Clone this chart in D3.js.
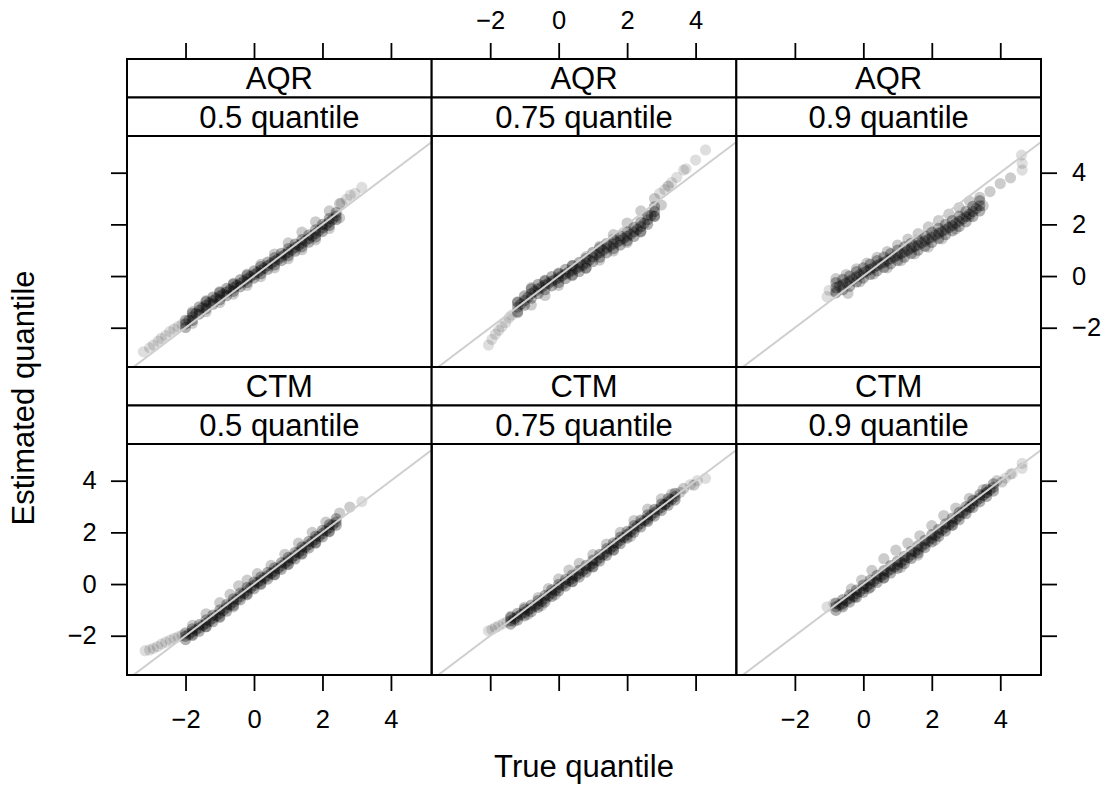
<!DOCTYPE html>
<html><head><meta charset="utf-8">
<script src="https://cdn.jsdelivr.net/npm/d3@7"></script>
<style>body{margin:0;background:#fff} text{font-family:"Liberation Sans",Arial,Helvetica,sans-serif}</style>
</head><body><svg id="c" width="1105" height="786"></svg>
<script>
// ---------- data (true quantile grid + estimated quantile tracks) ----------
const methods = ["AQR", "CTM"];
const quantileLabels = ["0.5 quantile", "0.75 quantile", "0.9 quantile"];
const tickVals = [-2, 0, 2, 4];
const xLimits = [-3.71, 5.19];
const yLimits = [-3.52, 5.42];

// AQR 0.5
const a50_x   = [-2.0,-1.8,-1.6,-1.4,-1.2,-1.0,-0.8,-0.6,-0.4,-0.2,0.0,0.2,0.4,0.6,0.8,1.0,1.2,1.4,1.6,1.8,2.0,2.2,2.4];
const a50_hi  = [-1.71,-1.44,-1.19,-0.99,-0.81,-0.64,-0.48,-0.31,-0.14,0.03,0.20,0.37,0.54,0.71,0.88,1.06,1.24,1.41,1.59,1.79,2.00,2.23,2.46];
const a50_mid = [-1.85,-1.58,-1.33,-1.13,-0.95,-0.78,-0.62,-0.45,-0.28,-0.11,0.06,0.23,0.40,0.57,0.74,0.92,1.10,1.27,1.45,1.65,1.86,2.09,2.32];
const a50_lo  = [-1.99,-1.72,-1.47,-1.27,-1.09,-0.92,-0.76,-0.59,-0.42,-0.25,-0.08,0.09,0.26,0.43,0.60,0.78,0.96,1.13,1.31,1.51,1.72,1.95,2.18];
const a50_x2  = [-1.9,-1.7,-1.5,-1.3,-1.1,-0.9,-0.7,-0.5,-0.3,-0.1,0.1,0.3,0.5,0.7,0.9,1.1,1.3,1.5,1.7,1.9,2.1,2.3];
const a50_mid2= [-1.71,-1.45,-1.23,-1.04,-0.86,-0.70,-0.53,-0.36,-0.19,-0.02,0.14,0.31,0.48,0.65,0.83,1.01,1.18,1.36,1.55,1.75,1.97,2.20];
const a50_fringe = [[-1.8,-1.38],[-1.4,-0.95],[-1.0,-0.60],[-0.6,-0.28],[-0.2,0.08],[0.2,0.45],[0.6,0.85],[1.0,1.28],[1.4,1.70],[1.8,2.10],[2.2,2.52],[2.5,2.80],
  [-1.8,-1.83],[-1.4,-1.38],[-1.0,-1.03],[-0.6,-0.70],[-0.2,-0.36],[0.2,-0.02],[0.6,0.32],[1.0,0.67],[1.4,1.02],[1.8,1.40],[2.2,1.84],[2.5,2.25]];
const a50_tail = [[-3.23,-2.93],[-3.05,-2.78],[-2.94,-2.67],[-2.80,-2.52],[-2.71,-2.41],[-2.58,-2.30],[-2.46,-2.15],[-2.34,-2.05],[-2.22,-1.96],[-2.10,-1.86],
  [2.55,2.82],[2.70,2.97],[2.81,3.13],[2.95,3.20],[3.15,3.43]];

// AQR 0.75
const a75_x   = [-1.2,-1.0,-0.8,-0.6,-0.4,-0.2,0.0,0.2,0.4,0.6,0.8,1.0,1.2,1.4,1.6,1.8,2.0,2.2,2.4,2.6,2.8];
const a75_hi  = [-1.02,-0.77,-0.50,-0.32,-0.17,-0.02,0.11,0.26,0.40,0.53,0.68,0.92,1.09,1.26,1.42,1.56,1.72,1.89,2.09,2.36,2.68];
const a75_mid = [-1.20,-0.95,-0.68,-0.50,-0.35,-0.20,-0.07,0.08,0.22,0.35,0.50,0.74,0.91,1.08,1.24,1.38,1.54,1.71,1.91,2.18,2.50];
const a75_lo  = [-1.38,-1.13,-0.86,-0.68,-0.53,-0.38,-0.25,-0.10,0.04,0.17,0.32,0.56,0.73,0.90,1.06,1.20,1.36,1.53,1.73,2.00,2.32];
const a75_x2  = [-1.1,-0.9,-0.7,-0.5,-0.3,-0.1,0.1,0.3,0.5,0.7,0.9,1.1,1.3,1.5,1.7,1.9,2.1,2.3,2.5,2.7];
const a75_mid2= [-1.08,-0.82,-0.59,-0.43,-0.28,-0.14,0.01,0.15,0.28,0.42,0.62,0.83,1.00,1.16,1.31,1.46,1.62,1.81,2.04,2.34];
const a75_fringe = [[-1.2,-1.0],[-0.8,-0.45],[-0.4,-0.2],[0.0,0.08],[0.4,0.4],[0.8,0.75],[1.2,1.15],[1.6,1.6],[2.0,2.05],[2.4,2.52],[2.8,3.0],[3.2,3.48],
  [-1.2,-1.42],[-0.8,-1.12],[-0.4,-0.75],[0.0,-0.36],[0.4,0.02],[0.8,0.30],[1.2,0.62],[1.6,0.97],[2.0,1.30],[2.4,1.70],[2.8,2.30],[3.0,2.75]];
const a75_tail = [[-2.05,-2.67],[-1.95,-2.45],[-1.85,-2.25],[-1.75,-2.10],[-1.66,-1.96],[-1.55,-1.80],[-1.45,-1.62],[-1.37,-1.51],
  [2.95,3.20],[3.10,3.35],[3.30,3.62],[3.45,3.82],[3.65,4.10],[3.72,4.15],[4.00,4.49],[4.29,4.88]];

// AQR 0.9
const a90_x   = [-0.8,-0.6,-0.4,-0.2,0.0,0.2,0.4,0.6,0.8,1.0,1.2,1.4,1.6,1.8,2.0,2.2,2.4,2.6,2.8,3.0,3.2,3.4];
const a90_hi  = [-0.25,-0.13,0.00,0.17,0.32,0.46,0.60,0.73,0.87,1.00,1.13,1.27,1.40,1.55,1.70,1.85,2.00,2.15,2.32,2.50,2.70,2.92];
const a90_mid = [-0.45,-0.33,-0.20,-0.03,0.12,0.26,0.40,0.53,0.67,0.80,0.93,1.07,1.20,1.35,1.50,1.65,1.80,1.95,2.12,2.30,2.50,2.72];
const a90_lo  = [-0.65,-0.53,-0.40,-0.23,-0.08,0.06,0.20,0.33,0.47,0.60,0.73,0.87,1.00,1.15,1.30,1.45,1.60,1.75,1.92,2.10,2.30,2.52];
const a90_x2  = [-0.7,-0.5,-0.3,-0.1,0.1,0.3,0.5,0.7,0.9,1.1,1.3,1.5,1.7,1.9,2.1,2.3,2.5,2.7,2.9,3.1,3.3];
const a90_mid2= [-0.39,-0.27,-0.12,0.05,0.19,0.33,0.47,0.60,0.74,0.87,1.00,1.14,1.28,1.43,1.58,1.73,1.88,2.04,2.21,2.40,2.61];
const a90_fringe = [[-0.8,-0.10],[-0.5,0.06],[-0.2,0.28],[0.1,0.50],[0.4,0.72],[0.7,0.95],[1.0,1.20],[1.3,1.43],[1.6,1.64],[1.9,1.90],[2.2,2.15],[2.5,2.40],[2.8,2.65],[3.1,2.90],[3.4,3.05],[3.7,3.27],[4.0,3.58],[4.3,3.80],
  [-0.8,-0.60],[-0.45,-0.67],[-0.1,-0.22],[0.3,0.08],[0.7,0.32],[1.1,0.60],[1.5,0.86],[1.9,1.12],[2.3,1.44],[2.7,1.82],[3.1,2.30],[3.5,2.72]];
const a90_tail = [[-1.06,-0.80],[-1.00,-0.55],[4.64,4.10],[4.64,4.36],[4.62,4.68]];

// CTM 0.5
const c50_x   = [-2.0,-1.8,-1.6,-1.4,-1.2,-1.0,-0.8,-0.6,-0.4,-0.2,0.0,0.2,0.4,0.6,0.8,1.0,1.2,1.4,1.6,1.8,2.0,2.2,2.4];
const c50_hi  = [-1.89,-1.73,-1.57,-1.39,-1.20,-1.00,-0.79,-0.57,-0.35,-0.13,0.08,0.27,0.45,0.63,0.83,1.03,1.23,1.44,1.65,1.86,2.08,2.30,2.53];
const c50_mid = [-2.02,-1.86,-1.70,-1.52,-1.33,-1.13,-0.92,-0.70,-0.48,-0.26,-0.05,0.14,0.32,0.50,0.70,0.90,1.10,1.31,1.52,1.73,1.95,2.17,2.40];
const c50_lo  = [-2.15,-1.99,-1.83,-1.65,-1.46,-1.26,-1.05,-0.83,-0.61,-0.39,-0.18,0.01,0.19,0.37,0.57,0.77,0.97,1.18,1.39,1.60,1.82,2.04,2.27];
const c50_x2  = [-1.9,-1.7,-1.5,-1.3,-1.1,-0.9,-0.7,-0.5,-0.3,-0.1,0.1,0.3,0.5,0.7,0.9,1.1,1.3,1.5,1.7,1.9,2.1,2.3];
const c50_mid2= [-1.94,-1.78,-1.61,-1.43,-1.23,-1.03,-0.81,-0.59,-0.37,-0.15,0.05,0.23,0.41,0.60,0.80,1.00,1.21,1.42,1.63,1.84,2.06,2.29];
const c50_fringe = [[-1.8,-1.60],[-1.4,-1.15],[-1.0,-0.72],[-0.7,-0.40],[-0.45,-0.07],[-0.2,0.15],[0.1,0.40],[0.5,0.72],[0.9,1.15],[1.3,1.58],[1.7,2.00],[2.1,2.40],[2.5,2.75],[2.8,2.98],
  [-1.8,-1.95],[-1.4,-1.65],[-1.0,-1.30],[-0.6,-0.88],[-0.2,-0.42],[0.2,-0.02],[0.6,0.35],[1.0,0.75],[1.4,1.15],[1.8,1.58],[2.2,2.02]];
const c50_tail = [[-3.18,-2.58],[-3.05,-2.55],[-2.94,-2.49],[-2.82,-2.42],[-2.70,-2.32],[-2.58,-2.25],[-2.45,-2.17],[-2.33,-2.10],[-2.21,-2.04],[-2.10,-1.98],[3.15,3.19]];

// CTM 0.75
const c75_x   = [-1.4,-1.2,-1.0,-0.8,-0.6,-0.4,-0.2,0.0,0.2,0.4,0.6,0.8,1.0,1.2,1.4,1.6,1.8,2.0,2.2,2.4,2.6,2.8,3.0,3.2,3.4];
const c75_hi  = [-1.29,-1.13,-0.97,-0.81,-0.64,-0.44,-0.22,-0.01,0.18,0.35,0.53,0.72,0.93,1.15,1.37,1.59,1.82,2.04,2.26,2.47,2.68,2.89,3.10,3.31,3.51];
const c75_mid = [-1.42,-1.26,-1.10,-0.94,-0.77,-0.57,-0.35,-0.14,0.05,0.22,0.40,0.59,0.80,1.02,1.24,1.46,1.69,1.91,2.13,2.34,2.55,2.76,2.97,3.18,3.38];
const c75_lo  = [-1.55,-1.39,-1.23,-1.07,-0.90,-0.70,-0.48,-0.27,-0.08,0.09,0.27,0.46,0.67,0.89,1.11,1.33,1.56,1.78,2.00,2.21,2.42,2.63,2.84,3.05,3.25];
const c75_x2  = [-1.3,-1.1,-0.9,-0.7,-0.5,-0.3,-0.1,0.1,0.3,0.5,0.7,0.9,1.1,1.3,1.5,1.7,1.9,2.1,2.3,2.5,2.7,2.9,3.1,3.3];
const c75_mid2= [-1.34,-1.18,-1.02,-0.86,-0.67,-0.46,-0.25,-0.05,0.14,0.31,0.50,0.70,0.91,1.13,1.35,1.58,1.80,2.02,2.24,2.45,2.66,2.87,3.08,3.28];
const c75_fringe = [[-1.4,-1.25],[-1.0,-0.90],[-0.6,-0.52],[-0.3,-0.18],[0.0,0.20],[0.3,0.54],[0.6,0.80],[1.0,1.14],[1.4,1.55],[1.8,2.00],[2.2,2.46],[2.6,2.90],[3.0,3.30],[3.3,3.48],[3.65,3.70],
  [-1.3,-1.44],[-0.9,-1.17],[-0.5,-0.83],[-0.1,-0.41],[0.4,0.10],[1.0,0.66],[1.6,1.30],[2.1,1.84],[2.6,2.48],[3.1,3.08],[3.55,3.55],[3.95,3.83]];
const c75_tail = [[-2.05,-1.81],[-1.95,-1.76],[-1.85,-1.68],[-1.75,-1.62],[-1.62,-1.53],[-1.51,-1.46],[3.85,3.85],[4.05,4.00],[4.29,4.09]];

// CTM 0.9
const c90_x   = [-0.8,-0.6,-0.4,-0.2,0.0,0.2,0.4,0.6,0.8,1.0,1.2,1.4,1.6,1.8,2.0,2.2,2.4,2.6,2.8,3.0,3.2,3.4,3.6,3.8];
const c90_hi  = [-0.74,-0.60,-0.42,-0.23,-0.04,0.15,0.34,0.52,0.71,0.89,1.07,1.27,1.48,1.69,1.91,2.12,2.33,2.55,2.77,3.00,3.24,3.46,3.67,3.88];
const c90_mid = [-0.88,-0.74,-0.56,-0.37,-0.18,0.01,0.20,0.38,0.57,0.75,0.93,1.13,1.34,1.55,1.77,1.98,2.19,2.41,2.63,2.86,3.10,3.32,3.53,3.74];
const c90_lo  = [-1.02,-0.88,-0.70,-0.51,-0.32,-0.13,0.06,0.24,0.43,0.61,0.79,0.99,1.20,1.41,1.63,1.84,2.05,2.27,2.49,2.72,2.96,3.18,3.39,3.60];
const c90_x2  = [-0.7,-0.5,-0.3,-0.1,0.1,0.3,0.5,0.7,0.9,1.1,1.3,1.5,1.7,1.9,2.1,2.3,2.5,2.7,2.9,3.1,3.3,3.5,3.7];
const c90_mid2= [-0.81,-0.65,-0.47,-0.28,-0.09,0.11,0.29,0.48,0.66,0.84,1.03,1.24,1.45,1.66,1.88,2.09,2.30,2.52,2.75,2.98,3.21,3.43,3.64];
const c90_fringe = [[-0.35,-0.19],[-0.05,0.15],[0.25,0.53],[0.6,0.98],[0.95,1.31],[1.3,1.58],[1.65,1.87],[2.0,2.26],[2.35,2.65],[2.7,2.94],[3.1,3.32],[3.5,3.66],[3.9,4.00],
  [-0.62,-0.81],[-0.25,-0.51],[0.15,-0.18],[0.6,0.23],[1.1,0.65],[1.6,1.12],[2.1,1.70],[2.6,2.28],[3.1,2.95],[3.6,3.54],[4.05,3.95]];
const c90_tail = [[-1.06,-0.88],[-0.86,-0.75],[4.3,4.25],[4.64,4.67],[4.64,4.48],[4.35,4.28],[4.15,4.10]];

(function () {
function corePoints(xg, tracks, xg2, track2) {
  const pts = [];
  tracks.forEach(t => t.forEach((y, i) => pts.push([xg[i], y])));
  track2.forEach((y, i) => pts.push([xg2[i], y]));
  return pts;
}
const panels = [
  [{core: corePoints(a50_x, [a50_hi, a50_mid, a50_lo], a50_x2, a50_mid2), fringe: a50_fringe, tail: a50_tail},
   {core: corePoints(a75_x, [a75_hi, a75_mid, a75_lo], a75_x2, a75_mid2), fringe: a75_fringe, tail: a75_tail},
   {core: corePoints(a90_x, [a90_hi, a90_mid, a90_lo], a90_x2, a90_mid2), fringe: a90_fringe, tail: a90_tail}],
  [{core: corePoints(c50_x, [c50_hi, c50_mid, c50_lo], c50_x2, c50_mid2), fringe: c50_fringe, tail: c50_tail},
   {core: corePoints(c75_x, [c75_hi, c75_mid, c75_lo], c75_x2, c75_mid2), fringe: c75_fringe, tail: c75_tail},
   {core: corePoints(c90_x, [c90_hi, c90_mid, c90_lo], c90_x2, c90_mid2), fringe: c90_fringe, tail: c90_tail}]
];

const W = 1105, H = 786;
const leftX = 127, rightX = 1041, topY = 59, stripH = 38.5, panelH = 231;
const panelW = (rightX - leftX) / 3;
const rowStep = 2 * stripH + panelH;
const FONT = '"Liberation Sans", Arial, Helvetica, sans-serif';

const svg = d3.select("#c");
svg.append("rect").attr("width", W).attr("height", H).attr("fill", "#fff");

const xs = d3.scaleLinear().domain(xLimits).range([0, panelW]);
const ys = d3.scaleLinear().domain(yLimits).range([panelH, 0]);
const defs = svg.append("defs");

const styleAxis = sel => {
  sel.attr("font-size", 25.5).attr("font-family", FONT);
  sel.select(".domain").remove();
  sel.selectAll(".tick line").attr("stroke", "#000").attr("stroke-width", 1.8);
  sel.selectAll(".tick text").attr("fill", "#000");
};

for (let r = 0; r < 2; r++) {
  for (let c = 0; c < 3; c++) {
    const x0 = leftX + c * panelW;
    const y0 = topY + r * rowStep;
    [methods[r], quantileLabels[c]].forEach((lab, k) => {
      const sy = y0 + k * stripH;
      svg.append("rect").attr("x", x0).attr("y", sy).attr("width", panelW).attr("height", stripH)
        .attr("fill", "#fff").attr("stroke", "#000").attr("stroke-width", 2);
      svg.append("text").attr("x", x0 + panelW / 2).attr("y", sy + stripH / 2 + 11)
        .attr("text-anchor", "middle").attr("font-size", 31).attr("font-family", FONT).attr("fill", "#000").text(lab);
    });
    const py = y0 + 2 * stripH;
    const g = svg.append("g").attr("transform", `translate(${x0},${py})`);
    const cid = `clip${r}${c}`;
    defs.append("clipPath").attr("id", cid).append("rect").attr("width", panelW).attr("height", panelH);
    const inner = g.append("g").attr("clip-path", `url(#${cid})`);
    const P = panels[r][c];
    [["tail", 0.13], ["fringe", 0.2], ["core", 0.3]].forEach(([key, op]) => {
      inner.append("g").selectAll("circle").data(P[key]).join("circle")
        .attr("cx", d => xs(d[0])).attr("cy", d => ys(d[1])).attr("r", 5.6)
        .attr("fill", "#000").attr("fill-opacity", op);
    });
    inner.append("line")
      .attr("x1", xs(xLimits[0])).attr("y1", ys(xLimits[0]))
      .attr("x2", xs(xLimits[1])).attr("y2", ys(xLimits[1]))
      .attr("stroke", "#cfcfcf").attr("stroke-width", 2);
    g.append("rect").attr("width", panelW).attr("height", panelH)
      .attr("fill", "none").attr("stroke", "#000").attr("stroke-width", 2);

    if (r === 0) {
      const ax = d3.axisTop(xs).tickValues(tickVals).tickSize(16).tickPadding(13.7);
      if (c !== 1) ax.tickFormat("");
      svg.append("g").attr("transform", `translate(${x0},${topY})`).call(ax).call(styleAxis);
    }
    if (r === 1) {
      const ax = d3.axisBottom(xs).tickValues(tickVals).tickSize(16).tickPadding(19);
      if (c === 1) ax.tickFormat("");
      svg.append("g").attr("transform", `translate(${x0},${py + panelH})`).call(ax).call(styleAxis);
    }
    if (c === 0) {
      const ax = d3.axisLeft(ys).tickValues(tickVals).tickSize(16).tickPadding(14.3);
      if (r === 0) ax.tickFormat("");
      g.append("g").call(ax).call(styleAxis);
    }
    if (c === 2) {
      const ax = d3.axisRight(ys).tickValues(tickVals).tickSize(16).tickPadding(15);
      if (r === 1) ax.tickFormat("");
      g.append("g").attr("transform", `translate(${panelW},0)`).call(ax).call(styleAxis);
    }
  }
}

svg.append("text").attr("x", (leftX + rightX) / 2).attr("y", 777)
  .attr("text-anchor", "middle").attr("font-size", 31).attr("font-family", FONT).text("True quantile");
svg.append("text").attr("transform", "translate(34,398) rotate(-90)")
  .attr("text-anchor", "middle").attr("font-size", 31).attr("font-family", FONT).text("Estimated quantile");
})();
</script></body></html>
